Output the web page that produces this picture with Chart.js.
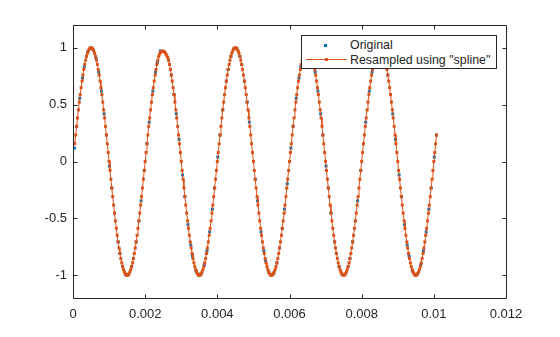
<!DOCTYPE html>
<html>
<head>
<meta charset="utf-8">
<script src="https://cdn.jsdelivr.net/npm/chart.js@4/dist/chart.umd.min.js"></script>
<style>
  body { margin: 0; background: #fff; }
  #wrap { position: relative; width: 560px; height: 337px; }
  #legend {
    position: absolute; left: 301px; top: 35px; width: 194px; height: 32px;
    border: 1px solid #262626; background: #fff;
    font: 12.4px "Liberation Sans", Arial, sans-serif; color: #262626;
  }
  #legend .txt { position: absolute; left: 48px; line-height: 15px; white-space: nowrap; }
  #legend .mk { position: absolute; width: 3px; height: 3px; }
  #legend .ln { position: absolute; height: 1px; }
</style>
</head>
<body>
<div id="wrap">
  <canvas id="plot" width="560" height="337"></canvas>
  <div id="legend">
    <span class="mk" style="left:22px; top:8px; background:#0072BD"></span>
    <span class="txt" style="top:2px">Original</span>
    <span class="ln" style="left:4px; width:41px; top:23px; background:#D95319"></span>
    <span class="mk" style="left:23px; top:22px; background:#D95319"></span>
    <span class="txt" style="top:17px">Resampled using "spline"</span>
  </div>
</div>
<script>
// axis ticks
const xTicks = [0, 0.002, 0.004, 0.006, 0.008, 0.01, 0.012];
const xTickLabels = ["0", "0.002", "0.004", "0.006", "0.008", "0.01", "0.012"];
const yTicks = [-1, -0.5, 0, 0.5, 1];
const yTickLabels = ["-1", "-0.5", "0", "0.5", "1"];

// nonuniform original samples (time in microseconds)
const originalTimeUs = [
  37.5, 100, 187.5, 262.5, 312.5, 412.5, 487.5, 550, 637.5, 712.5,
  787.5, 862.5, 925, 1012.5, 1075, 1150, 1250, 1300, 1375, 1462.5,
  1537.5, 1625, 1675, 1750, 1825, 1887.5, 1975, 2050, 2112.5, 2212.5,
  2287.5, 2337.5, 2425, 2650, 2725, 2800, 2862.5, 2937.5,
  3037.5, 3100, 3187.5, 3262.5, 3312.5, 3412.5, 3487.5, 3550, 3637.5, 3712.5,
  3787.5, 3862.5, 3925, 4012.5, 4075, 4150, 4250, 4300, 4375, 4462.5,
  4537.5, 4625, 4675, 4750, 4825, 4887.5, 4975, 5050, 5112.5, 5212.5,
  5287.5, 5337.5, 5425, 5500, 5562.5, 5650, 5725, 5800, 5862.5, 5937.5,
  6037.5, 6100, 6187.5, 6262.5, 6312.5, 6412.5, 6487.5, 6550, 6637.5, 6712.5,
  6787.5, 6862.5, 6925, 7012.5, 7075, 7150, 7250, 7300, 7375, 7462.5,
  7537.5, 7625, 7675, 7750, 7825, 7887.5, 7975, 8050, 8112.5, 8212.5,
  8287.5, 8337.5, 8425, 8500, 8562.5, 8650, 8725, 8800, 8862.5, 8937.5,
  9037.5, 9100, 9187.5, 9262.5, 9312.5, 9412.5, 9487.5, 9550, 9637.5, 9712.5,
  9787.5, 9862.5, 9925, 10012.5, 10075
];
const originalValues = [
  .118, .309, .556, .734, .831, .962, .999, .988, .908, .785,
  .619, .419, .233, -.039, -.233, -.454, -.707, -.809, -.924, -.993,
  -.993, -.924, -.853, -.707, -.522, -.346, -.078, .156, .346, .619,
  .785, .873, .972, .891, .760, .588, .419, .195,
  -.118, -.309, -.556, -.734, -.831, -.962, -.999, -.988, -.908, -.785,
  -.619, -.419, -.233, .039, .233, .454, .707, .809, .924, .993,
  .993, .924, .853, .707, .522, .346, .078, -.156, -.346, -.619,
  -.785, -.873, -.972, -1, -.981, -.891, -.760, -.588, -.419, -.195,
  .118, .309, .556, .734, .831, .962, .999, .988, .908, .785,
  .619, .419, .233, -.039, -.233, -.454, -.707, -.809, -.924, -.993,
  -.993, -.924, -.853, -.707, -.522, -.346, -.078, .156, .346, .619,
  .785, .873, .972, 1, .981, .891, .760, .588, .419, .195,
  -.118, -.309, -.556, -.734, -.831, -.962, -.999, -.988, -.908, -.785,
  -.619, -.419, -.233, .039, .233
];

// spline output on the uniform 40 kHz grid, first sample at 50 us
const resampleStartUs = 50;
const resampleStepUs = 25;
const resampledValues = [
  .156, .233, .309, .383, .454, .522, .588, .649, .707, .760, .809, .853, .891, .924, .951, .972, .988, .997, 1,
  .997, .988, .972, .951, .924, .891, .853, .809, .760, .707, .649, .588, .522, .454, .383, .309, .233, .156, .079, 0,
  -.079, -.156, -.233, -.309, -.383, -.454, -.522, -.588, -.649, -.707, -.760, -.809, -.853, -.891, -.924, -.951, -.972, -.988, -.997, -1,
  -.997, -.988, -.972, -.951, -.924, -.891, -.853, -.809, -.760, -.707, -.649, -.588, -.522, -.454, -.383, -.309, -.233, -.156, -.079, 0,
  .079,
  .156, .233, .309, .383, .454, .522, .588, .649, .707, .760, .809, .853, .891, .924, .945, .960, .966, .970, .970,
  .966, .958, .945, .930, .915, .891, .853, .809, .760, .707, .649, .588, .522, .454, .383, .309, .233, .156, .079, 0,
  -.079, -.156, -.233, -.309, -.383, -.454, -.522, -.588, -.649, -.707, -.760, -.809, -.853, -.891, -.924, -.951, -.972, -.988, -.997, -1,
  -.997, -.988, -.972, -.951, -.924, -.891, -.853, -.809, -.760, -.707, -.649, -.588, -.522, -.454, -.383, -.309, -.233, -.156, -.079, 0,
  .079,
  .156, .233, .309, .383, .454, .522, .588, .649, .707, .760, .809, .853, .891, .924, .951, .972, .988, .997, 1,
  .997, .988, .972, .951, .924, .891, .853, .809, .760, .707, .649, .588, .522, .454, .383, .309, .233, .156, .079, 0,
  -.079, -.156, -.233, -.309, -.383, -.454, -.522, -.588, -.649, -.707, -.760, -.809, -.853, -.891, -.924, -.951, -.972, -.988, -.997, -1,
  -.997, -.988, -.972, -.951, -.924, -.891, -.853, -.809, -.760, -.707, -.649, -.588, -.522, -.454, -.383, -.309, -.233, -.156, -.079, 0,
  .079,
  .156, .233, .309, .383, .454, .522, .588, .649, .707, .760, .809, .853, .891, .924, .951, .972, .988, .997, 1,
  .997, .988, .972, .951, .924, .891, .853, .809, .760, .707, .649, .588, .522, .454, .383, .309, .233, .156, .079, 0,
  -.079, -.156, -.233, -.309, -.383, -.454, -.522, -.588, -.649, -.707, -.760, -.809, -.853, -.891, -.924, -.951, -.972, -.988, -.997, -1,
  -.997, -.988, -.972, -.951, -.924, -.891, -.853, -.809, -.760, -.707, -.649, -.588, -.522, -.454, -.383, -.309, -.233, -.156, -.079, 0,
  .079,
  .156, .233, .309, .383, .454, .522, .588, .649, .707, .760, .809, .853, .891, .924, .951, .972, .988, .997, 1,
  .997, .988, .972, .951, .924, .891, .853, .809, .760, .707, .649, .588, .522, .454, .383, .309, .233, .156, .079, 0,
  -.079, -.156, -.233, -.309, -.383, -.454, -.522, -.588, -.649, -.707, -.760, -.809, -.853, -.891, -.924, -.951, -.972, -.988, -.997, -1,
  -.997, -.988, -.972, -.951, -.924, -.891, -.853, -.809, -.760, -.707, -.649, -.588, -.522, -.454, -.383, -.309, -.233, -.156, -.079, 0,
  .079,
  .156, .233
];

const AXIS_COLOR = "#262626";
const FONT = { family: '"Liberation Sans", Arial, sans-serif', size: 13 };
const TICK_LEN = 4;

const originalPoints = originalTimeUs.map((t, i) => ({ x: t / 1e6, y: originalValues[i] }));
const resampledPoints = resampledValues.map((v, i) => ({
  x: (resampleStartUs + i * resampleStepUs) / 1e6,
  y: v
}));

// box around the axes with inward ticks on all four sides
const axesFrame = {
  id: "axesFrame",
  afterDatasetsDraw(chart) {
    const { ctx, chartArea: a, scales } = chart;
    const L = Math.round(a.left) + 0.5;
    const R = Math.round(a.right) + 0.5;
    const T = Math.round(a.top) + 0.5;
    const B = Math.round(a.bottom) + 0.5;

    ctx.save();
    ctx.strokeStyle = AXIS_COLOR;
    ctx.lineWidth = 1;
    ctx.beginPath();
    ctx.rect(L, T, R - L, B - T);

    scales.x.ticks.forEach(t => {
      const px = Math.round(scales.x.getPixelForValue(t.value)) + 0.5;
      ctx.moveTo(px, B); ctx.lineTo(px, B - TICK_LEN);
      ctx.moveTo(px, T); ctx.lineTo(px, T + TICK_LEN);
    });
    scales.y.ticks.forEach(t => {
      const py = Math.round(scales.y.getPixelForValue(t.value)) + 0.5;
      ctx.moveTo(L, py); ctx.lineTo(L + TICK_LEN, py);
      ctx.moveTo(R, py); ctx.lineTo(R - TICK_LEN, py);
    });
    ctx.stroke();
    ctx.restore();
  }
};

new Chart(document.getElementById("plot"), {
  type: "scatter",
  data: {
    datasets: [
      {
        label: "Original",
        data: originalPoints,
        showLine: false,
        pointStyle: "rect",
        pointRadius: 2.1,
        pointBorderWidth: 0,
        pointBackgroundColor: "#0072BD",
        order: 2
      },
      {
        label: 'Resampled using "spline"',
        data: resampledPoints,
        showLine: true,
        borderColor: "#D95319",
        borderWidth: 1,
        pointStyle: "rect",
        pointRadius: 2.1,
        pointBorderWidth: 0,
        pointBackgroundColor: "#D95319",
        order: 1
      }
    ]
  },
  options: {
    responsive: false,
    animation: false,
    devicePixelRatio: 1,
    layout: { padding: { top: 25, right: 54, left: 0, bottom: 0 } },
    plugins: {
      legend: { display: false },
      tooltip: { enabled: false }
    },
    scales: {
      x: {
        type: "linear",
        min: 0,
        max: 0.012,
        grid: { display: false, drawTicks: false },
        border: { display: false },
        afterBuildTicks: s => { s.ticks = xTicks.map(v => ({ value: v })); },
        afterFit: s => { s.height = 39; },
        ticks: {
          callback: (v, i) => xTickLabels[i],
          color: AXIS_COLOR,
          font: FONT,
          padding: 9,
          maxRotation: 0,
          autoSkip: false
        }
      },
      y: {
        type: "linear",
        min: -1.2,
        max: 1.2,
        grid: { display: false, drawTicks: false },
        border: { display: false },
        afterBuildTicks: s => { s.ticks = yTicks.map(v => ({ value: v })); },
        afterFit: s => { s.width = 73; },
        ticks: {
          callback: (v, i) => yTickLabels[i],
          color: AXIS_COLOR,
          font: FONT,
          padding: 6,
          autoSkip: false
        }
      }
    }
  },
  plugins: [axesFrame]
});
</script>
</body>
</html>
